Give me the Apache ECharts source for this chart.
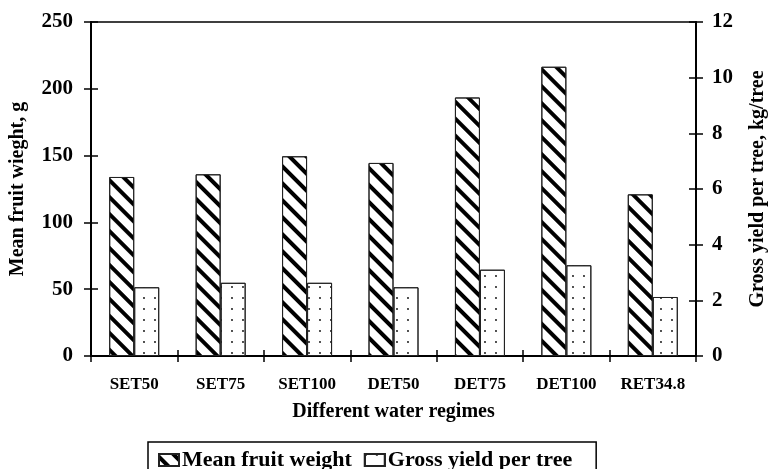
<!DOCTYPE html>
<html>
<head>
<meta charset="utf-8">
<script src="https://cdn.jsdelivr.net/npm/echarts@6/dist/echarts.min.js"></script>
<style>html,body{margin:0;padding:0;background:#fff;}#c{width:768px;height:469px;}</style>
</head>
<body>
<div id="c"></div>
<script>
const categories = ['SET50', 'SET75', 'SET100', 'DET50', 'DET75', 'DET100', 'RET34.8'];
const meanFruitWeight = [134, 136, 149.5, 144.5, 193.5, 216.5, 121];
const grossYield = [2.47, 2.63, 2.63, 2.47, 3.1, 3.26, 2.12];
const seriesNames = ['Mean fruit weight', 'Gross yield per tree'];
const axisNames = ['Mean fruit wieght, g', 'Gross yield per tree, kg/tree', 'Different water regimes'];

const FONT = 'Liberation Serif';
const chart = echarts.init(document.getElementById('c'));

const stripes = {
  symbol: 'rect', symbolSize: 1,
  dashArrayX: [1, 0], dashArrayY: [4, 8],
  rotation: Math.PI / 4, color: '#000'
};
const dots = {
  symbol: 'circle', symbolSize: 0.9,
  dashArrayX: [2, 9], dashArrayY: [2, 9],
  rotation: 0, color: '#000'
};

const tickLbl = { color: '#000', fontFamily: FONT, fontWeight: 'bold', fontSize: 21 };
const nameStyle = { color: '#000', fontFamily: FONT, fontWeight: 'bold', fontSize: 20 };

chart.setOption({
  animation: false,
  backgroundColor: '#fff',
  grid: { left: 91, right: 72, top: 22, bottom: 113, show: true, borderColor: '#000', borderWidth: 1.5, outerBoundsMode: 'none', containLabel: false },
  legend: {
    left: 148, top: 442,
    padding: [7, 24, 20, 10],
    borderColor: '#000', borderWidth: 1.5,
    itemWidth: 20, itemHeight: 12, itemGap: 12,
    icon: 'rect',
    textStyle: { color: '#000', fontFamily: FONT, fontWeight: 'bold', fontSize: 22, padding: [0, 0, 0, -2] },
    data: seriesNames
  },
  xAxis: [
    {
      type: 'category', data: categories, position: 'bottom',
      axisLine: { lineStyle: { color: '#000', width: 2 } },
      axisTick: { show: true, length: 6, lineStyle: { color: '#000', width: 1.5 } },
      axisLabel: { color: '#000', fontFamily: FONT, fontWeight: 'bold', fontSize: 17, margin: 20 },
      name: axisNames[2], nameLocation: 'middle', nameGap: 46, nameTextStyle: nameStyle
    },
    {
      type: 'category', data: categories, position: 'bottom',
      axisLine: { show: false },
      axisTick: { show: true, inside: true, length: 6, lineStyle: { color: '#000', width: 1.5 } },
      axisLabel: { show: false }
    }
  ],
  yAxis: [
    {
      type: 'value', position: 'left', min: 0, max: 250, interval: 50,
      axisLine: { show: true, lineStyle: { color: '#000', width: 2 } },
      axisTick: { show: true, length: 7, lineStyle: { color: '#000', width: 1.5 } },
      axisLabel: Object.assign({ margin: 18 }, tickLbl),
      splitLine: { show: false },
      name: axisNames[0], nameLocation: 'middle', nameGap: 63, nameTextStyle: nameStyle
    },
    {
      type: 'value', position: 'right', min: 0, max: 12, interval: 2,
      axisLine: { show: true, lineStyle: { color: '#000', width: 2 } },
      axisTick: { show: true, length: 7, lineStyle: { color: '#000', width: 1.5 } },
      axisLabel: Object.assign({ margin: 16 }, tickLbl),
      splitLine: { show: false },
      name: axisNames[1], nameLocation: 'middle', nameGap: 52, nameTextStyle: nameStyle
    },
    {
      type: 'value', position: 'left', min: 0, max: 250, interval: 50,
      axisLine: { show: false },
      axisTick: { show: true, inside: true, length: 7, lineStyle: { color: '#000', width: 1.5 } },
      axisLabel: { show: false }, splitLine: { show: false }
    },
    {
      type: 'value', position: 'right', min: 0, max: 12, interval: 2,
      axisLine: { show: false },
      axisTick: { show: true, inside: true, length: 7, lineStyle: { color: '#000', width: 1.5 } },
      axisLabel: { show: false }, splitLine: { show: false }
    }
  ],
  series: [
    {
      name: seriesNames[0], type: 'bar', xAxisIndex: 0, yAxisIndex: 0,
      data: meanFruitWeight, barWidth: 25, barGap: '0%',
      itemStyle: { color: '#fff', borderColor: '#222', borderWidth: 1, decal: stripes }
    },
    {
      name: seriesNames[1], type: 'bar', xAxisIndex: 0, yAxisIndex: 1,
      data: grossYield, barWidth: 25, barGap: '0%',
      itemStyle: { color: '#fff', borderColor: '#222', borderWidth: 1, decal: dots }
    }
  ]
});
</script>
</body>
</html>
